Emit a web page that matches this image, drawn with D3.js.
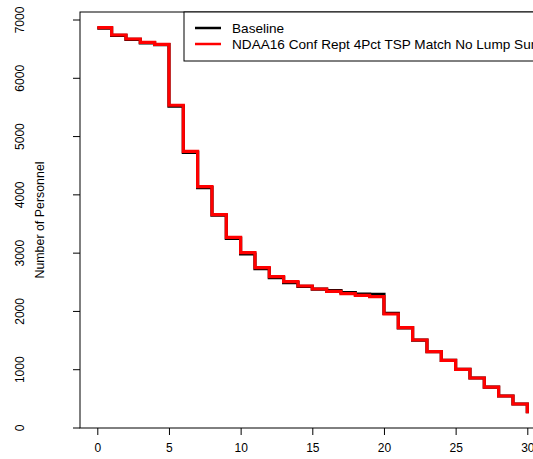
<!DOCTYPE html>
<html lang="en">
<head>
    <meta charset="UTF-8" />
    <title>Number of Personnel</title>
    <script src="https://d3js.org/d3.v7.min.js"></script>
    <style>
        body { margin: 0; background: #fff; }
        svg { display: block; font-family: "Liberation Sans", Arial, sans-serif; }
    </style>
</head>
<body>
    <svg id="chart" width="533" height="459"></svg>
    <script>
        // years of service 0..30
        const years = d3.range(0, 31);
        const baseline = [6860, 6735, 6668, 6608, 6576, 5524, 4730, 4123, 3652, 3255,
            2985, 2733, 2579, 2493, 2430, 2382, 2356, 2322, 2299, 2294,
            1967, 1719, 1508, 1310, 1161, 1008, 858, 703, 549, 412, 252];
        const ndaa = [6868, 6743, 6674, 6617, 6583, 5537, 4747, 4140, 3660, 3272,
            3008, 2750, 2596, 2510, 2436, 2385, 2345, 2305, 2277, 2253,
            1956, 1721, 1510, 1310, 1161, 1007, 858, 703, 549, 412, 252];
        const seriesNames = ["Baseline", "NDAA16 Conf Rept 4Pct TSP Match No Lump Sum"];
        const seriesColors = ["#000000", "#ff0000"];
        const xTicks = [0, 5, 10, 15, 20, 25, 30];
        const yTicks = [0, 1000, 2000, 3000, 4000, 5000, 6000, 7000];

        const svg = d3.select("#chart");
        const x = d3.scaleLinear().domain([0, 30]).range([97.3, 527.3]);
        const y = d3.scaleLinear().domain([0, 7000]).range([428, 20]);
        const xl = x.invert(80), xr = x.invert(545);
        const yTop = 12;

        // steps like R type="s"
        const line = d3.line()
            .x((d, i) => x(years[i]))
            .y(d => y(d))
            .curve(d3.curveStepAfter);

        [baseline, ndaa].forEach((s, k) => {
            svg.append("path")
                .datum(s)
                .attr("d", line)
                .attr("fill", "none")
                .attr("stroke", seriesColors[k])
                .attr("stroke-width", 3.2)
                .attr("stroke-linejoin", "miter")
                .attr("stroke-linecap", "butt");
        });

        // box
        svg.append("rect")
            .attr("x", x(xl)).attr("y", yTop)
            .attr("width", x(xr) - x(xl)).attr("height", y(0) - yTop)
            .attr("fill", "none").attr("stroke", "#000").attr("stroke-width", 1);

        // x axis
        const xAxis = svg.append("g").attr("transform", `translate(0,${y(0)})`)
            .call(d3.axisBottom(x).tickValues(xTicks).tickSize(7).tickPadding(8));
        xAxis.select(".domain").remove();
        xAxis.selectAll("line").attr("stroke", "#000");
        xAxis.selectAll("text").attr("font-size", 12).attr("fill", "#000")
            .attr("font-family", "Liberation Sans, Arial, sans-serif");

        // y axis: ticks + rotated labels (R las=0)
        const yAxis = svg.append("g");
        yAxis.selectAll("line.yt").data(yTicks).join("line")
            .attr("class", "yt")
            .attr("x1", x(xl) - 7).attr("x2", x(xl))
            .attr("y1", d => y(d)).attr("y2", d => y(d))
            .attr("stroke", "#000").attr("stroke-width", 1);
        yAxis.selectAll("text").data(yTicks).join("text")
            .attr("transform", d => `translate(24,${y(d)}) rotate(-90)`)
            .attr("text-anchor", "middle")
            .attr("font-size", 12)
            .text(d3.format("d"));

        svg.append("text")
            .attr("transform", `translate(44,${(y(0) + yTop) / 2}) rotate(-90)`)
            .attr("text-anchor", "middle")
            .attr("font-size", 12.4)
            .text("Number of Personnel");

        // legend
        const lg = svg.append("g");
        lg.append("rect")
            .attr("x", 184).attr("y", yTop).attr("width", 400).attr("height", 49)
            .attr("fill", "#fff").attr("stroke", "#000").attr("stroke-width", 1);
        seriesNames.forEach((name, k) => {
            const ly = 28 + k * 16;
            lg.append("line")
                .attr("x1", 195).attr("x2", 221).attr("y1", ly).attr("y2", ly)
                .attr("stroke", seriesColors[k]).attr("stroke-width", 2.5);
            lg.append("text")
                .attr("x", 232).attr("y", ly).attr("dy", "0.35em")
                .attr("font-size", 13.6)
                .text(name);
        });
    </script>
</body>
</html>
